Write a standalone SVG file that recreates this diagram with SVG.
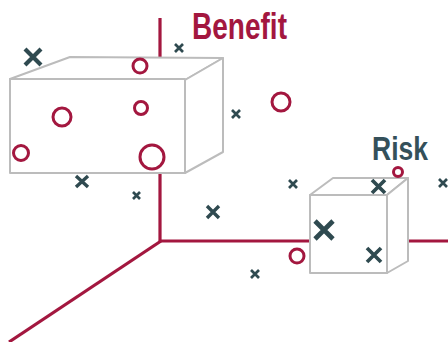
<svg xmlns="http://www.w3.org/2000/svg" width="448" height="342" viewBox="0 0 448 342">
<style>
.axis{stroke:#a3173f;stroke-width:3.2;fill:none}
.box{fill:#fff;stroke:#bcbcbc;stroke-width:2;stroke-linejoin:round}
.o{fill:none;stroke:#a3173f;stroke-width:3}
.x{stroke:#2f4a50;fill:none;stroke-linecap:butt}
.lbl{font-family:"Liberation Sans","Roboto",sans-serif;font-weight:bold}
</style>
<rect width="448" height="342" fill="#fff"/>
<g id="axes">
<line class="axis" x1="160" y1="18" x2="160" y2="242"/>
<line class="axis" x1="160" y1="241" x2="448" y2="241"/>
<line class="axis" x1="161" y1="241" x2="9" y2="342"/>
</g>
<g id="benefit-box">
<polygon class="box" points="10,79 70,57 223,58 185,80"/>
<polygon class="box" points="185,80 223,58 223,152 185,173"/>
<rect class="box" x="10" y="79" width="175" height="94"/>
</g>
<g id="risk-box">
<polygon class="box" points="310,195 333,178 408,178 387,195"/>
<polygon class="box" points="387,195 408,178 408,261 387,273"/>
<rect class="box" x="310" y="195" width="77" height="78"/>
</g>
<g id="benefit-label"><text class="lbl" x="192" y="39" font-size="36" fill="#a3173f" textLength="95" lengthAdjust="spacingAndGlyphs">Benefit</text></g>
<g id="risk-label"><text class="lbl" x="372" y="160" font-size="34" fill="#34505a" textLength="56" lengthAdjust="spacingAndGlyphs">Risk</text></g>
<g id="circles">
<circle class="o" cx="140" cy="66" r="7"/>
<circle class="o" cx="62" cy="117" r="9"/>
<circle class="o" cx="141" cy="108" r="6.5"/>
<circle class="o" cx="152" cy="157" r="12"/>
<circle class="o" cx="21" cy="153" r="7.5"/>
<circle class="o" cx="281" cy="102" r="9"/>
<circle class="o" cx="297" cy="256" r="7"/>
<circle class="o" cx="398" cy="172" r="4.5" stroke-width="2"/>
</g>
<g id="crosses">
<path class="x" stroke-width="4.2" d="M25,49l16,16M41,49l-16,16"/>
<path class="x" stroke-width="2.7" d="M175,44l8,8M183,44l-8,8"/>
<path class="x" stroke-width="2.7" d="M232,110l8,8M240,110l-8,8"/>
<path class="x" stroke-width="3.4" d="M76,176l12,11M88,176l-12,11"/>
<path class="x" stroke-width="2.7" d="M133,192l7,7M140,192l-7,7"/>
<path class="x" stroke-width="3.4" d="M207,206l12,12M219,206l-12,12"/>
<path class="x" stroke-width="2.7" d="M289,180l8,8M297,180l-8,8"/>
<path class="x" stroke-width="3.7" d="M372,180l13,13M385,180l-13,13"/>
<path class="x" stroke-width="2.7" d="M439,179l8,8M447,179l-8,8"/>
<path class="x" stroke-width="4.7" d="M315,221l18,18M333,221l-18,18"/>
<path class="x" stroke-width="3.7" d="M367,248l14,14M381,248l-14,14"/>
<path class="x" stroke-width="2.7" d="M251,270l8,8M259,270l-8,8"/>
</g>
</svg>
